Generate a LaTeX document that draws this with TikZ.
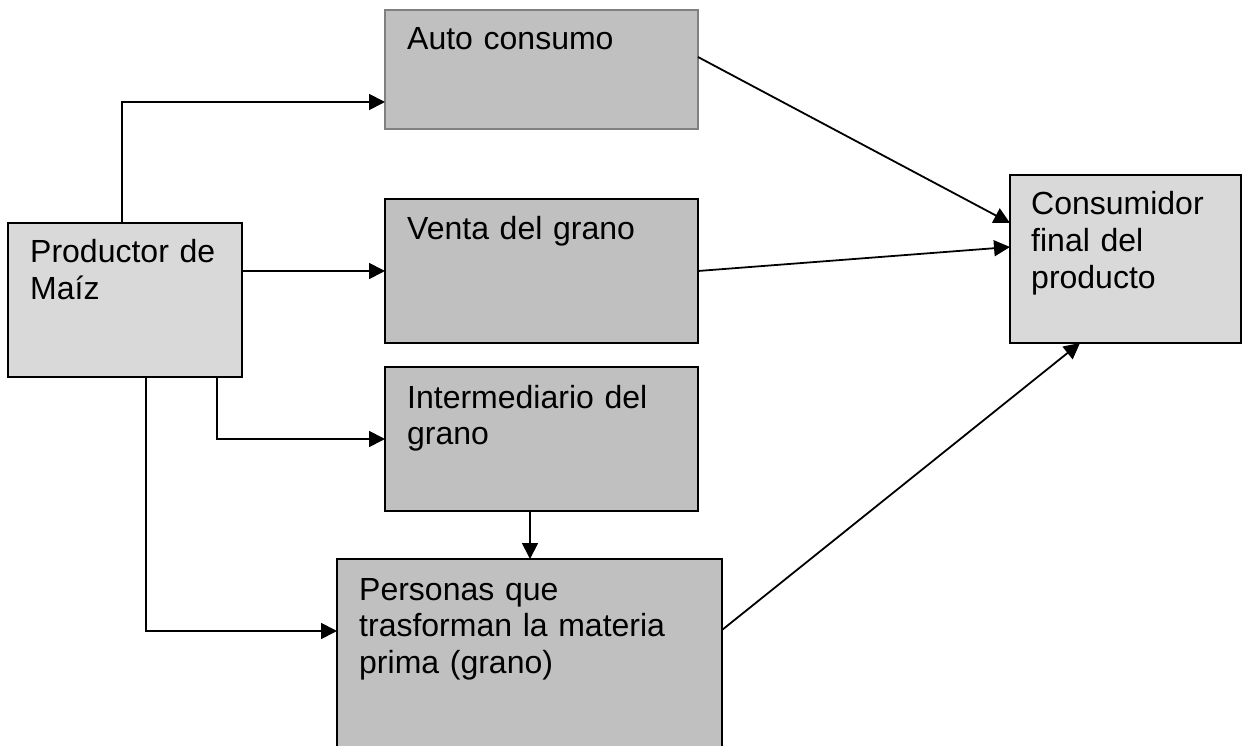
\documentclass[tikz,border=0pt]{standalone}
\usepackage{fontspec}
\setmainfont{Liberation Sans}
\usepackage{tikz}
\usetikzlibrary{arrows.meta, positioning}
\definecolor{boxgray}{HTML}{C0C0C0}
\definecolor{lightgray}{HTML}{D9D9D9}

\begin{document}
\begin{tikzpicture}[x=1pt, y=-1pt,
  box/.style={rectangle, draw, line width=2pt, fill=boxgray, inner sep=0pt, outer sep=0pt, anchor=north west},
  txt/.style={anchor=base west, inner sep=0pt, align=left, text width=#1,
    font=\fontsize{32}{36.8}\selectfont},
  arr/.style={line width=1.8pt, arrows={-Triangle[length=16pt, width=16pt]}}]
  \useasboundingbox (0,0) rectangle (1243,746);
  % boxes
  \node[box, draw=gray, minimum width=313pt, minimum height=119pt] (A) at (385,10) {};
  \node[box, fill=lightgray, minimum width=234pt, minimum height=154pt] (P) at (8,223) {};
  \node[box, minimum width=313pt, minimum height=144pt] (V) at (385,199) {};
  \node[box, minimum width=313pt, minimum height=144pt] (I) at (385,367) {};
  \node[box, minimum width=385pt, minimum height=192pt] (T) at (337,559) {};
  \node[box, fill=lightgray, minimum width=231pt, minimum height=168pt] (C) at (1010,175) {};
  % texts
  \node[txt=280pt] (At) at ([shift={(22,40)}]A.north west) {Auto consumo};
  \node[txt=200pt] (Pt) at ([shift={(22,40)}]P.north west) {Productor de\\Maíz};
  \node[txt=280pt] (Vt) at ([shift={(22,41)}]V.north west) {Venta del grano};
  \node[txt=280pt] (It) at ([shift={(22,41)}]I.north west) {Intermediario del\\grano};
  \node[txt=350pt] (Tt) at ([shift={(22,41)}]T.north west) {Personas que\\trasforman la materia\\prima (grano)};
  \node[txt=200pt] (Ct) at ([shift={(21,40)}]C.north west) {Consumidor\\final del\\producto};
  % connectors
  \coordinate (IT) at ([shift={(145,0)}]I.south west);
  \draw[arr] ([shift={(114,0)}]P.north west) |- ([shift={(0,-27)}]A.south west);
  \draw[arr] (V.west -| P.east) -- (V.west);
  \draw[arr] ([shift={(209,0)}]P.south west) |- (I.west);
  \draw[arr] ([shift={(138,0)}]P.south west) |- ([shift={(0,72)}]T.north west);
  \draw[arr] (IT) -- (IT |- T.north);
  \draw[arr] ([shift={(0,47)}]A.north east) -- ([shift={(0,48)}]C.north west);
  \draw[arr] (V.east) -- ([shift={(0,72)}]C.north west);
  \draw[arr] ([shift={(0,71)}]T.north east) -- ([shift={(70,0)}]C.south west);
\end{tikzpicture}
\end{document}
